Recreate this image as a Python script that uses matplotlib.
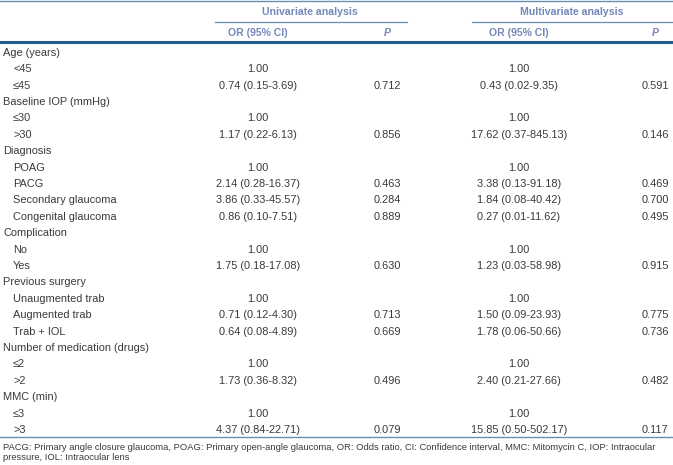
import matplotlib
matplotlib.use("Agg")
import matplotlib.pyplot as plt

# table data
row_labels = ["Age (years)", "<45", "≤45",
              "Baseline IOP (mmHg)", "≤30", ">30",
              "Diagnosis", "POAG", "PACG", "Secondary glaucoma", "Congenital glaucoma",
              "Complication", "No", "Yes",
              "Previous surgery", "Unaugmented trab", "Augmented trab", "Trab + IOL",
              "Number of medication (drugs)", "≤2", ">2",
              "MMC (min)", "≤3", ">3"]
is_group = [True, False, False,
            True, False, False,
            True, False, False, False, False,
            True, False, False,
            True, False, False, False,
            True, False, False,
            True, False, False]
uni_or = ["", "1.00", "0.74 (0.15-3.69)",
          "", "1.00", "1.17 (0.22-6.13)",
          "", "1.00", "2.14 (0.28-16.37)", "3.86 (0.33-45.57)", "0.86 (0.10-7.51)",
          "", "1.00", "1.75 (0.18-17.08)",
          "", "1.00", "0.71 (0.12-4.30)", "0.64 (0.08-4.89)",
          "", "1.00", "1.73 (0.36-8.32)",
          "", "1.00", "4.37 (0.84-22.71)"]
uni_p = ["", "", "0.712",
         "", "", "0.856",
         "", "", "0.463", "0.284", "0.889",
         "", "", "0.630",
         "", "", "0.713", "0.669",
         "", "", "0.496",
         "", "", "0.079"]
multi_or = ["", "1.00", "0.43 (0.02-9.35)",
            "", "1.00", "17.62 (0.37-845.13)",
            "", "1.00", "3.38 (0.13-91.18)", "1.84 (0.08-40.42)", "0.27 (0.01-11.62)",
            "", "1.00", "1.23 (0.03-58.98)",
            "", "1.00", "1.50 (0.09-23.93)", "1.78 (0.06-50.66)",
            "", "1.00", "2.40 (0.21-27.66)",
            "", "1.00", "15.85 (0.50-502.17)"]
multi_p = ["", "", "0.591",
           "", "", "0.146",
           "", "", "0.469", "0.700", "0.495",
           "", "", "0.915",
           "", "", "0.775", "0.736",
           "", "", "0.482",
           "", "", "0.117"]
group_headers = ["Univariate analysis", "Multivariate analysis"]
col_headers = ["OR (95% CI)", "P", "OR (95% CI)", "P"]
footnote = ("PACG: Primary angle closure glaucoma, POAG: Primary open-angle glaucoma, OR: Odds ratio, "
            "CI: Confidence interval, MMC: Mitomycin C, IOP: Intraocular\npressure, IOL: Intraocular lens")

plt.rcParams['font.family'] = ['Liberation Sans', 'DejaVu Sans']

W, H = 673, 465
fig = plt.figure(figsize=(W / 100, H / 100), dpi=100)
ax = fig.add_axes([0, 0, 1, 1])
ax.set_xlim(0, W)
ax.set_ylim(H, 0)
ax.axis("off")

head_color = "#7388ba"
body_color = "#3a3a3a"
line_color = "#6a8db3"
fs = 7.9

# header
col_x = [258, 387, 519, 655]
ax.text(310, 12, group_headers[0], ha="center", va="center", fontsize=7.6,
        fontweight="bold", color=head_color)
ax.text(572, 12, group_headers[1], ha="center", va="center", fontsize=7.6,
        fontweight="bold", color=head_color)
for x, h in zip(col_x, col_headers):
    style = "italic" if h == "P" else "normal"
    ax.text(x, 33, h, ha="center", va="center", fontsize=7.6, fontweight="bold",
            style=style, color=head_color)

ax.plot([0, W], [0.8, 0.8], color=line_color, lw=1.0)
ax.plot([215, 407], [22, 22], color=line_color, lw=0.9)
ax.plot([472, W], [22, 22], color=line_color, lw=0.9)
ax.plot([0, W], [42.5, 42.5], color="#245a8e", lw=2.2)

# body
y0, dy = 52.8, 16.4
for i, lab in enumerate(row_labels):
    y = y0 + i * dy
    ax.text(3 if is_group[i] else 13, y, lab, ha="left", va="center",
            fontsize=fs, color=body_color)
    for x, col in zip(col_x, [uni_or, uni_p, multi_or, multi_p]):
        if col[i]:
            ax.text(x, y, col[i], ha="center", va="center", fontsize=fs, color=body_color)

ax.plot([0, W], [436.6, 436.6], color=line_color, lw=1.0)
ax.text(3, 442.5, footnote, ha="left", va="top", fontsize=6.75, color=body_color,
        linespacing=1.2)

fig.savefig("out.png", dpi=100)
